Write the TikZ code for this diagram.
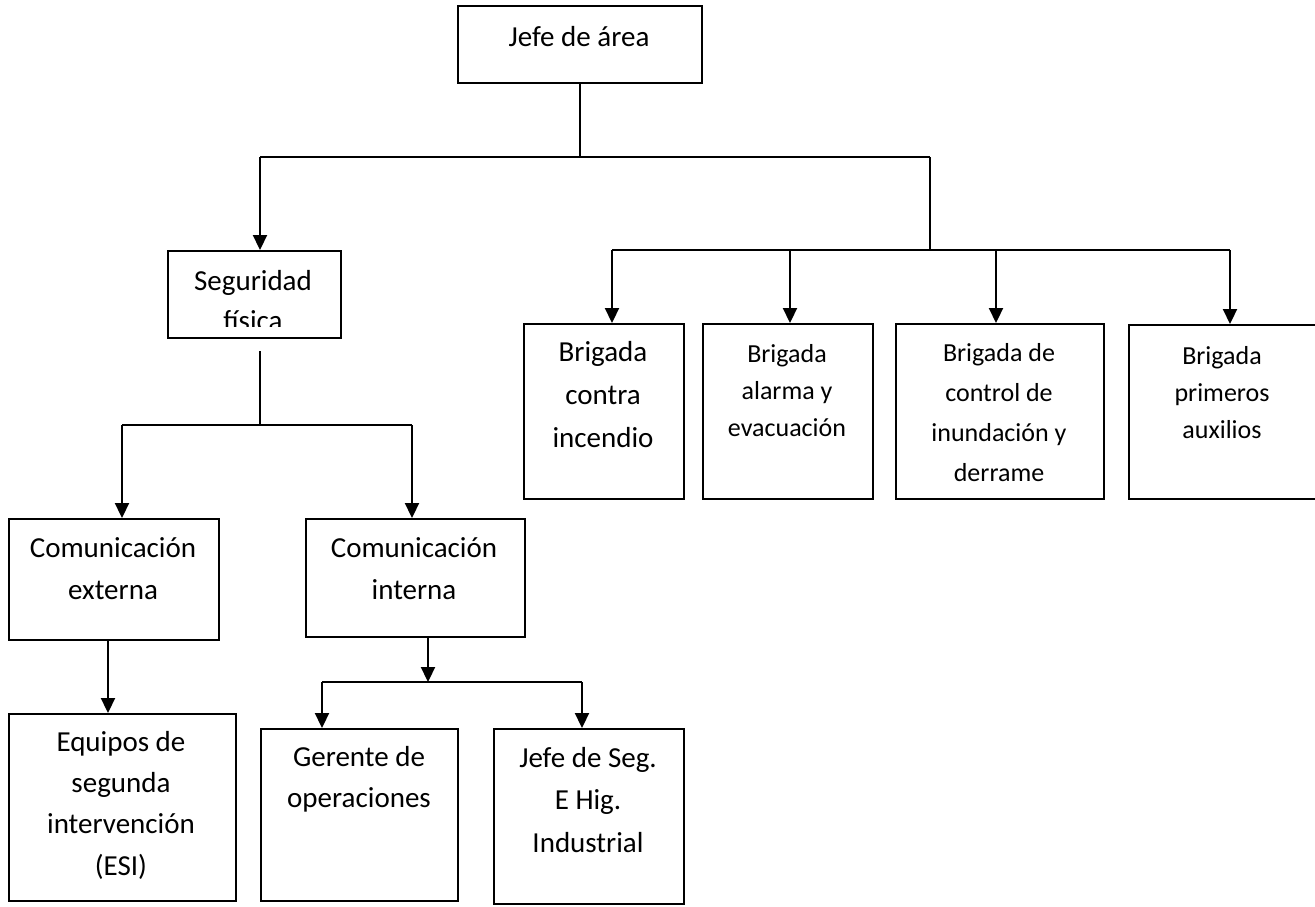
\documentclass[tikz,border=0pt]{standalone}
\usepackage{fontspec}
\setmainfont{Carlito}
\usetikzlibrary{arrows.meta}

\tikzset{
  orgbox/.style={draw, line width=2pt, rectangle, inner sep=0pt, anchor=north west},
  % multi-line labels: the base anchor sits on the last line's baseline
  label/.style={align=center, anchor=base, inner sep=0pt},
  big/.style={font=\fontsize{29}{#1}\selectfont},
  small/.style={font=\fontsize{26}{#1}\selectfont},
  link/.style={line width=2.2pt},
  arr/.style={line width=2.2pt, -{Triangle[length=15pt,width=14pt]}},
}

\begin{document}
\begin{tikzpicture}[x=1pt, y=-1pt]
\clip (0,0) rectangle (1315,906);
\fill[white] (0,0) rectangle (1315,906);

% ---- boxes ----
\node[orgbox, minimum width=244pt, minimum height=77pt]  (jefe) at (457,5)   {};
\node[orgbox, minimum width=173pt, minimum height=87pt]  (seg)  at (167,250) {};
\node[orgbox, minimum width=160pt, minimum height=175pt] (b1)   at (523,323) {};
\node[orgbox, minimum width=170pt, minimum height=175pt] (b2)   at (702,323) {};
\node[orgbox, minimum width=208pt, minimum height=175pt] (b3)   at (895,323) {};
\node[orgbox, minimum width=192pt, minimum height=174pt] (b4)   at (1128,324) {};
\node[orgbox, minimum width=210pt, minimum height=121pt] (cext) at (8,518)   {};
\node[orgbox, minimum width=219pt, minimum height=118pt] (cint) at (305,518) {};
\node[orgbox, minimum width=227pt, minimum height=187pt] (esi)  at (8,713)   {};
\node[orgbox, minimum width=197pt, minimum height=172pt] (ger)  at (260,728) {};
\node[orgbox, minimum width=190pt, minimum height=175pt] (jseg) at (493,728) {};

% ---- texts (positioned by the baseline of their last line) ----
\node[label, big=42] (tjefe) at (579,46) {Jefe de área};
\begin{scope}
  \clip (170,253) rectangle (337,326);
  \node[label, big=40] (tseg) at (253,330) {Seguridad\\física};
\end{scope}
\node[label, big=43]     (tb1) at (603,447)  {Brigada\\contra\\incendio};
\node[label, small=37]   (tb2) at (787,436)  {Brigada\\alarma y\\evacuación};
\node[label, small=39.7] (tb3) at (999,481)  {Brigada de\\control de\\inundación y\\derrame};
\node[label, small=37]   (tb4) at (1222,438) {Brigada\\primeros\\auxilios};
\node[label, big=42]     (tcext) at (113,599) {Comunicación\\externa};
\node[label, big=42]     (tcint) at (414,599) {Comunicación\\interna};
\node[label, big=41.3]   (tesi) at (121,875)  {Equipos de\\segunda\\intervención\\(ESI)};
\node[label, big=41]     (tger) at (359,807)  {Gerente de\\operaciones};
\node[label, big=42.5]   (tjseg) at (588,852) {Jefe de Seg.\\E Hig.\\Industrial};

% ---- junction points ----
\coordinate (top)  at (580,157);
\coordinate (topL) at (260,157);
\coordinate (topR) at (930,157);
\coordinate (brR)  at (930,250);
\coordinate (br1)  at (612,250);
\coordinate (br2)  at (790,250);
\coordinate (br3)  at (996,250);
\coordinate (br4)  at (1230,250);
\coordinate (segs) at (260,351);
\coordinate (seg2) at (260,425);
\coordinate (comL) at (122,425);
\coordinate (comR) at (412,425);
\coordinate (intj) at (428,682);
\coordinate (intL) at (322,682);
\coordinate (intR) at (582,682);

% ---- connectors ----
\draw[link] (jefe.south) -- (top);
\draw[link] (topL) -- (topR);
\draw[arr]  (topL) -- (topL |- seg.north);
\draw[link] (topR) -- (brR);
\draw[link] (br1) -- (br4);
\draw[arr]  (br1) -- (br1 |- b1.north);
\draw[arr]  (br2) -- (br2 |- b2.north);
\draw[arr]  (br3) -- (br3 |- b3.north);
\draw[arr]  (br4) -- (br4 |- b4.north);

\draw[link] (segs) -- (seg2);
\draw[link] (comL) -- (comR);
\draw[arr]  (comL) -- (comL |- cext.north);
\draw[arr]  (comR) -- (comR |- cint.north);

\draw[arr]  (cext.south -| 108,0) -- (108,0 |- esi.north);

\draw[arr]  (cint.south -| intj) -- (intj);
\draw[link] (intL) -- (intR);
\draw[arr]  (intL) -- (intL |- ger.north);
\draw[arr]  (intR) -- (intR |- jseg.north);
\end{tikzpicture}
\end{document}
